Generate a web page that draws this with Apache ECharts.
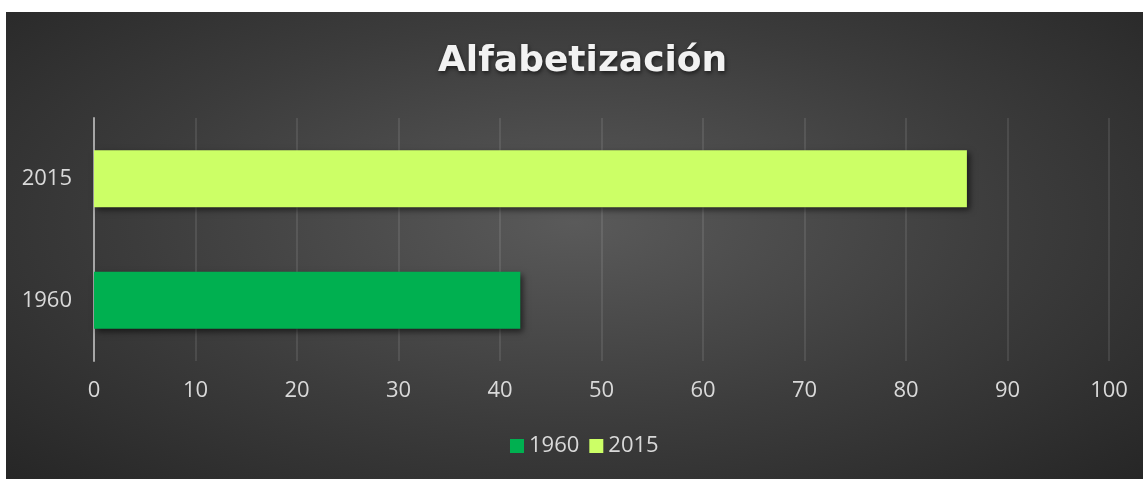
<!DOCTYPE html>
<html>
<head>
<meta charset="utf-8">
<script src="https://cdn.jsdelivr.net/npm/echarts@6/dist/echarts.min.js"></script>
<style>
html, body { margin: 0; padding: 0; background: #fff; }
#chart {
  position: absolute;
  left: 6px;
  top: 12px;
  width: 1137px;
  height: 467px;
  background: radial-gradient(ellipse at 50% 45%, #5a5a5a 0%, #3c3c3c 55%, #262626 100%);
}
</style>
</head>
<body>
<div id="chart"></div>
<script>
const categories = ["1960", "2015"];
const seriesNames = ["1960", "2015"];
const values1960 = [42, "-"];
const values2015 = ["-", 86];
const colors = ["#00b050", "#ccff66"];

let chart = echarts.init(document.getElementById("chart"));

let barShadow = {
  shadowBlur: 6,
  shadowOffsetX: 3,
  shadowOffsetY: 3,
  shadowColor: "rgba(0,0,0,0.55)"
};

let labelFont = {
  color: "#d9d9d9",
  fontFamily: "Open Sans",
  fontSize: 22
};

let option = {
  backgroundColor: "transparent",
  title: {
    text: "Alfabetización",
    left: 427,
    top: 27,
    textStyle: {
      color: "#f2f2f2",
      fontFamily: "DejaVu Sans",
      fontWeight: "bold",
      fontSize: 36,
      textShadowColor: "rgba(0,0,0,0.6)",
      textShadowBlur: 4,
      textShadowOffsetX: 1,
      textShadowOffsetY: 2
    }
  },
  legend: {
    data: seriesNames,
    bottom: 17,
    left: 499,
    itemWidth: 14,
    itemHeight: 14,
    itemGap: 10,
    icon: "rect",
    textStyle: labelFont
  },
  grid: {
    left: 88,
    right: 34,
    top: 106,
    bottom: 118
  },
  xAxis: {
    type: "value",
    min: 0,
    max: 100,
    interval: 10,
    axisLine: { show: false },
    axisTick: { show: false },
    splitLine: { lineStyle: { color: "rgba(255,255,255,0.13)", width: 1.5 } },
    axisLabel: Object.assign({ margin: 19 }, labelFont)
  },
  yAxis: {
    type: "category",
    data: categories,
    axisLine: { show: true, lineStyle: { color: "#a6a6a6", width: 2 } },
    axisTick: { show: false },
    axisLabel: Object.assign({ margin: 22 }, labelFont)
  },
  series: [
    {
      name: seriesNames[0],
      type: "bar",
      stack: "total",
      data: values1960,
      barWidth: "47%",
      itemStyle: Object.assign({ color: colors[0] }, barShadow)
    },
    {
      name: seriesNames[1],
      type: "bar",
      stack: "total",
      data: values2015,
      barWidth: "47%",
      itemStyle: Object.assign({ color: colors[1] }, barShadow)
    }
  ]
};

chart.setOption(option);
</script>
</body>
</html>
